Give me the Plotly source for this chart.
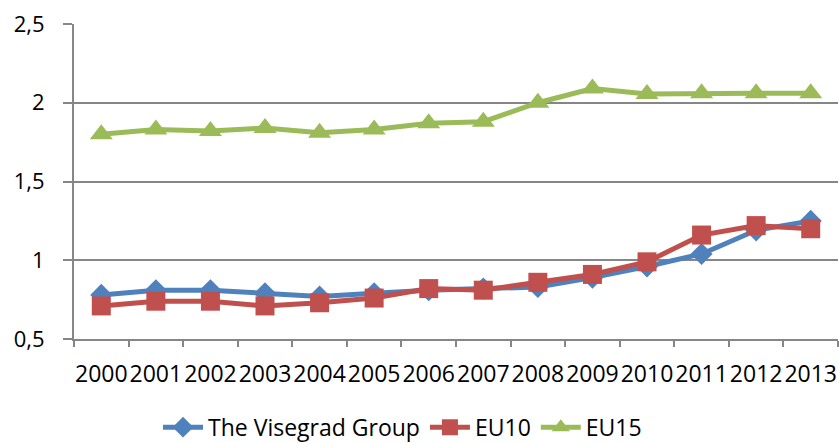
import plotly.graph_objects as go

years = ["2000", "2001", "2002", "2003", "2004", "2005", "2006",
         "2007", "2008", "2009", "2010", "2011", "2012", "2013"]
visegrad = [0.78, 0.81, 0.81, 0.79, 0.77, 0.79, 0.81,
            0.82, 0.83, 0.89, 0.96, 1.04, 1.19, 1.25]
eu10 = [0.71, 0.74, 0.74, 0.71, 0.73, 0.76, 0.82,
        0.81, 0.86, 0.91, 0.99, 1.16, 1.22, 1.20]
eu15 = [1.80, 1.83, 1.82, 1.84, 1.81, 1.83, 1.87,
        1.88, 2.00, 2.09, 2.055, 2.06, 2.06, 2.06]

y_ticks = [0.5, 1, 1.5, 2, 2.5]
y_tick_text = ["0,5", "1", "1,5", "2", "2,5"]

FONT = "Open Sans"

fig = go.Figure()
fig.add_trace(go.Scatter(
    x=years, y=visegrad, name="The Visegrad Group", mode="lines+markers",
    line=dict(color="#4F81BD", width=5),
    marker=dict(symbol="diamond", size=17, color="#4F81BD"),
    cliponaxis=False,
))
fig.add_trace(go.Scatter(
    x=years, y=eu10, name="EU10", mode="lines+markers",
    line=dict(color="#C0504D", width=5),
    marker=dict(symbol="square", size=19, color="#C0504D"),
    cliponaxis=False,
))
fig.add_trace(go.Scatter(
    x=years, y=eu15, name="EU15", mode="lines+markers",
    line=dict(color="#9BBB59", width=5),
    marker=dict(symbol="triangle-up", size=20, color="#9BBB59"),
    cliponaxis=False,
))

fig.update_layout(
    width=839, height=443,
    margin=dict(l=74, r=1, t=24, b=104, autoexpand=False),
    paper_bgcolor="white", plot_bgcolor="white",
    font=dict(family=FONT, size=21, color="black"),
    showlegend=True,
    legend=dict(orientation="h", x=0.43, xanchor="center",
                y=-0.28, yanchor="middle",
                font=dict(family=FONT, size=23, color="black"),
                itemwidth=40),
)
fig.update_xaxes(
    type="category", range=[-0.5, 13.5], automargin=False,
    showgrid=False, showline=True, linecolor="#868686", linewidth=2,
    ticks="outside", ticklen=6, tickcolor="#868686", tickwidth=2,
    tickson="boundaries", ticklabelstandoff=13, tickangle=0,
    tickfont=dict(family=FONT, size=23, color="black"),
)
fig.update_yaxes(
    range=[0.5, 2.5], tickvals=y_ticks, ticktext=y_tick_text, automargin=False,
    showgrid=True, gridcolor="#868686", gridwidth=2,
    showline=True, linecolor="#868686", linewidth=2,
    ticks="outside", ticklen=9, tickcolor="#868686", tickwidth=2,
    ticklabelstandoff=14, zeroline=False,
    tickfont=dict(family=FONT, size=22, color="black"),
)

fig.write_html("out.html")
